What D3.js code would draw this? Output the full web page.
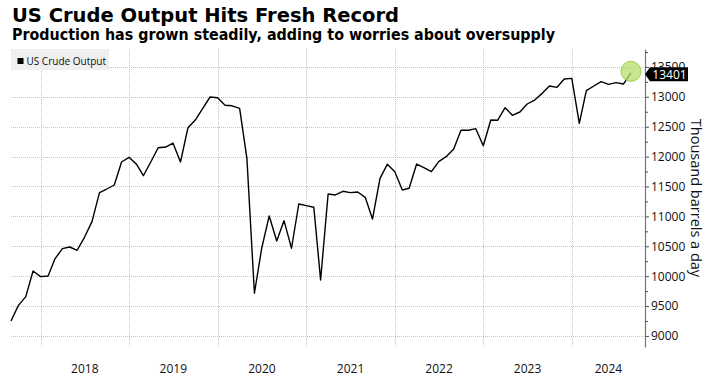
<!DOCTYPE html>
<html>
<head>
<meta charset="utf-8">
<script src="https://cdn.jsdelivr.net/npm/d3@7"></script>
<style>
  body { margin: 0; background: #fff; }
  svg { display: block; font-family: "Open Sans", sans-serif; }
</style>
</head>
<body>
<svg id="chart" width="720" height="376"></svg>
<script>
// monthly US crude output, thousand barrels a day
const months = [
  '2017-08', '2017-09', '2017-10', '2017-11', '2017-12',
  '2018-01', '2018-02', '2018-03', '2018-04', '2018-05', '2018-06', '2018-07', '2018-08', '2018-09', '2018-10', '2018-11', '2018-12',
  '2019-01', '2019-02', '2019-03', '2019-04', '2019-05', '2019-06', '2019-07', '2019-08', '2019-09', '2019-10', '2019-11', '2019-12',
  '2020-01', '2020-02', '2020-03', '2020-04', '2020-05', '2020-06', '2020-07', '2020-08', '2020-09', '2020-10', '2020-11', '2020-12',
  '2021-01', '2021-02', '2021-03', '2021-04', '2021-05', '2021-06', '2021-07', '2021-08', '2021-09', '2021-10', '2021-11', '2021-12',
  '2022-01', '2022-02', '2022-03', '2022-04', '2022-05', '2022-06', '2022-07', '2022-08', '2022-09', '2022-10', '2022-11', '2022-12',
  '2023-01', '2023-02', '2023-03', '2023-04', '2023-05', '2023-06', '2023-07', '2023-08', '2023-09', '2023-10', '2023-11', '2023-12',
  '2024-01', '2024-02', '2024-03', '2024-04', '2024-05', '2024-06', '2024-07', '2024-08'
];
const output = [
  9251, 9507, 9657, 10087, 9992,
  10003, 10288, 10460, 10488, 10433, 10650, 10912, 11397, 11458, 11525, 11910, 11988,
  11870, 11680, 11914, 12148, 12160, 12227, 11910, 12484, 12612, 12808, 12997, 12985,
  12858, 12850, 12808, 11971, 9714, 10467, 11007, 10589, 10928, 10467, 11207, 11179,
  11152, 9936, 11375, 11358, 11420, 11397, 11408, 11319, 10956, 11637, 11871, 11748,
  11441, 11470, 11876, 11815, 11748, 11915, 11999, 12127, 12440, 12440, 12467, 12182,
  12612, 12607, 12818, 12691, 12746, 12880, 12946, 13058, 13181, 13159, 13298, 13309,
  12557, 13103, 13181, 13253, 13209, 13237, 13214, 13401
];
const years = ['2018', '2019', '2020', '2021', '2022', '2023', '2024'];
const yTicks = [9000, 9500, 10000, 10500, 11000, 11500, 12000, 12500, 13000, 13500];
const yMinorTicks = [9250, 9750, 10250, 10750, 11250, 11750, 12250, 12750, 13250, 13750];

const seriesName = 'US Crude Output';
const title = 'US Crude Output Hits Fresh Record';
const subtitle = 'Production has grown steadily, adding to worries about oversupply';
const yTitle = 'Thousand barrels a day';

const svg = d3.select('#chart');
const plotLeft = 11, plotRight = 645, plotTop = 49, plotBottom = 347;

const parseMonth = d3.timeParse('%Y-%m');
// points sit at the end of each month
const data = months.map((m, i) => ({
  date: d3.timeMonth.offset(parseMonth(m), 1),
  value: output[i]
}));

const x = d3.scaleTime()
  .domain([data[0].date, new Date(2024, 9, 29)])
  .range([plotLeft, plotRight]);

const y = d3.scaleLinear()
  .domain([8815, 13800])
  .range([plotBottom, plotTop]);

// title block
svg.append('text')
  .attr('x', 12).attr('y', 22)
  .attr('font-family', 'DejaVu Sans')
  .attr('font-weight', 'bold')
  .attr('font-size', 20)
  .attr('textLength', 387)
  .attr('lengthAdjust', 'spacingAndGlyphs')
  .attr('fill', '#000')
  .text(title);

svg.append('text')
  .attr('x', 12).attr('y', 39.5)
  .attr('font-family', 'DejaVu Sans')
  .attr('font-weight', 'bold')
  .attr('font-size', 15)
  .attr('textLength', 543)
  .attr('lengthAdjust', 'spacingAndGlyphs')
  .attr('fill', '#000')
  .text(subtitle);

// grid
const grid = svg.append('g')
  .attr('stroke', '#c4c4c4')
  .attr('stroke-width', 1)
  .attr('stroke-dasharray', '1 1');

grid.selectAll('line.h')
  .data(yTicks)
  .enter().append('line')
  .attr('class', 'h')
  .attr('x1', plotLeft).attr('x2', plotRight)
  .attr('y1', d => Math.round(y(d)) + 0.5)
  .attr('y2', d => Math.round(y(d)) + 0.5);

grid.selectAll('line.v')
  .data(years)
  .enter().append('line')
  .attr('class', 'v')
  .attr('x1', d => Math.round(x(new Date(+d, 0, 1))) + 0.5)
  .attr('x2', d => Math.round(x(new Date(+d, 0, 1))) + 0.5)
  .attr('y1', plotTop).attr('y2', plotBottom);

// year labels centred on the visible part of each year
svg.append('g')
  .selectAll('text')
  .data(years)
  .enter().append('text')
  .attr('x', d => {
    const a = x(new Date(+d, 0, 1));
    const b = Math.min(x(new Date(+d + 1, 0, 1)), plotRight);
    return (a + b) / 2;
  })
  .attr('y', 373)
  .attr('text-anchor', 'middle')
  .attr('font-size', 12)
  .attr('fill', '#111')
  .text(d => d);

// right axis
const yAxis = svg.append('g')
  .attr('transform', `translate(${plotRight},0)`)
  .call(d3.axisRight(y).tickValues(yTicks).tickFormat(d3.format('d'))
    .tickSize(4).tickSizeOuter(0).tickPadding(2));
yAxis.select('.domain').attr('stroke', '#777').attr('stroke-width', 1.2);
yAxis.selectAll('.tick line').attr('stroke', '#555');
yAxis.selectAll('.tick text')
  .attr('font-family', '"Open Sans", sans-serif')
  .attr('font-size', 12)
  .attr('fill', '#111');

svg.append('g')
  .attr('transform', `translate(${plotRight},0)`)
  .call(d3.axisRight(y).tickValues(yMinorTicks).tickSize(3).tickFormat(''))
  .call(g => g.select('.domain').remove())
  .selectAll('.tick line').attr('stroke', '#555');

svg.append('text')
  .attr('transform', `translate(696,${(plotTop + plotBottom) / 2}) rotate(90)`)
  .attr('text-anchor', 'middle')
  .attr('dominant-baseline', 'central')
  .attr('font-size', 14.5)
  .attr('fill', '#111')
  .text(yTitle);

// legend
const legend = svg.append('g');
legend.append('rect')
  .attr('x', 11).attr('y', 49).attr('width', 98).attr('height', 21)
  .attr('fill', '#efefef');
legend.append('rect')
  .attr('x', 17.5).attr('y', 58).attr('width', 6).attr('height', 6)
  .attr('fill', '#000');
legend.append('text')
  .attr('x', 26.5).attr('y', 64.5)
  .attr('font-size', 10)
  .attr('fill', '#111')
  .text(seriesName);

// series line
const line = d3.line()
  .x(d => x(d.date))
  .y(d => y(d.value));

svg.append('path')
  .datum(data)
  .attr('fill', 'none')
  .attr('stroke', '#000')
  .attr('stroke-width', 1.4)
  .attr('stroke-linejoin', 'round')
  .attr('d', line);

// highlight on the latest value
const last = data[data.length - 1];
svg.append('circle')
  .attr('cx', x(last.date))
  .attr('cy', y(last.value) - 1.5)
  .attr('r', 10)
  .attr('fill', '#b5e06a')
  .attr('fill-opacity', 0.75)
  .attr('stroke', '#9bcf4f')
  .attr('stroke-width', 1);

// last value tag on the axis, drawn over the top tick label as in the original
const ly = y(last.value) + 1.5;
svg.append('path')
  .attr('d', `M${plotRight},${ly} L${plotRight + 5},${ly - 7} L${plotRight + 43},${ly - 7} L${plotRight + 43},${ly + 7} L${plotRight + 5},${ly + 7} Z`)
  .attr('fill', '#000');
svg.append('text')
  .attr('x', plotRight + 24.5)
  .attr('y', ly)
  .attr('text-anchor', 'middle')
  .attr('dominant-baseline', 'central')
  .attr('font-size', 12)
  .attr('fill', '#fff')
  .text(d3.format('d')(last.value));
</script>
</body>
</html>
